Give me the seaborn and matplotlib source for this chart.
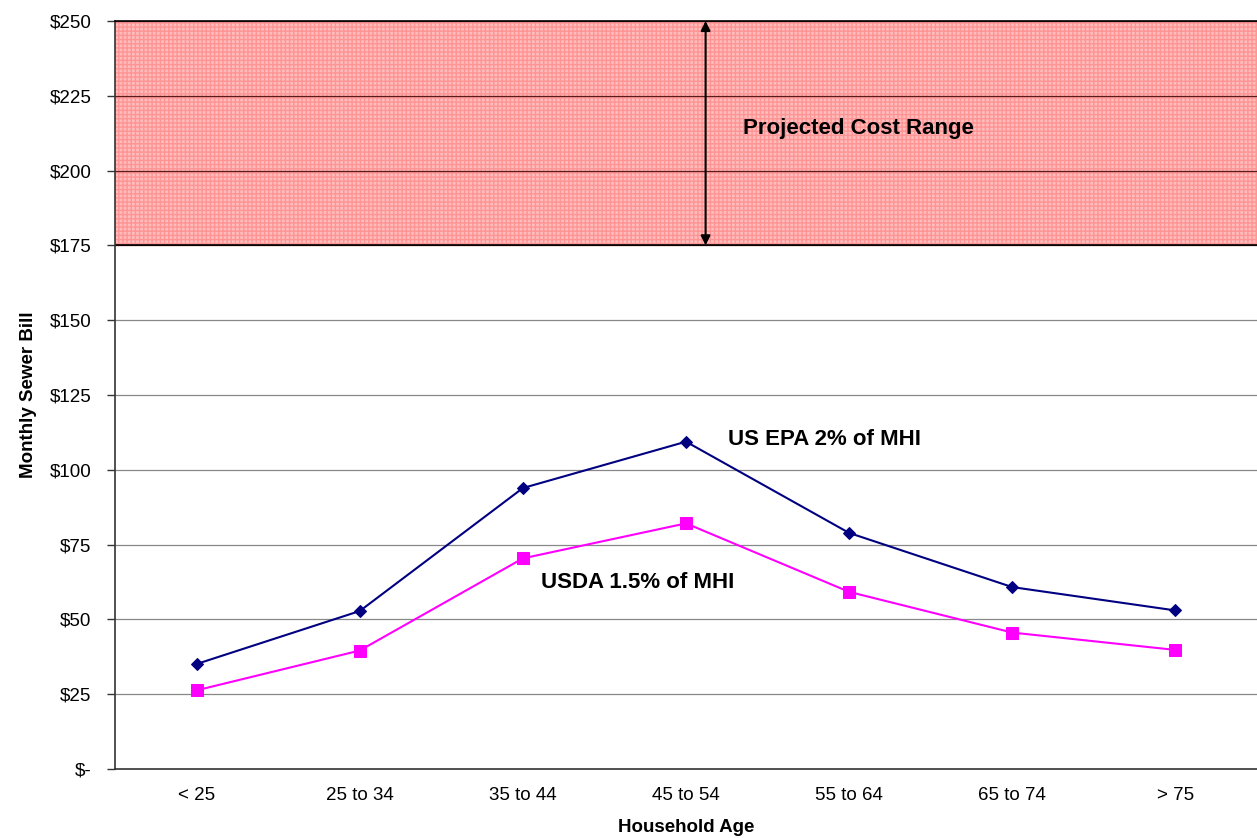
import pandas as pd
import numpy as np
import seaborn as sns
import matplotlib.pyplot as plt

# Datos
edades = ['< 25', '25 to 34', '35 to 44', '45 to 54', '55 to 64', '65 to 74', '> 75']
epa_2pct = [35.1, 52.8, 93.9, 109.4, 78.9, 60.8, 53.0]
usda_15pct = [26.3, 39.6, 70.4, 82.1, 59.2, 45.6, 39.8]
rango_costo = [175, 250]
y_ticks = [0, 25, 50, 75, 100, 125, 150, 175, 200, 225, 250]

sns.set_style("white")
plt.rcParams['font.family'] = ['Liberation Sans', 'DejaVu Sans']
plt.rcParams['text.color'] = 'black'
plt.rcParams['axes.labelcolor'] = 'black'
plt.rcParams['xtick.color'] = 'black'
plt.rcParams['ytick.color'] = 'black'

df = pd.DataFrame({'Edad': edades, 'EPA': epa_2pct, 'USDA': usda_15pct})

fig = plt.figure(figsize=(12.57, 8.38), dpi=100)
ax = fig.add_axes([0.0915, 0.0823, 0.9085, 0.8927])

# Banda del rango de costo proyectado
ax.axhspan(rango_costo[0], rango_costo[1], facecolor='#ffbcbc', edgecolor='#ff9494',
           hatch='++++', linewidth=0, zorder=0)
ax.axhline(rango_costo[0], color='black', linewidth=1.2, zorder=2)

# Lineas de cuadricula
for yv in y_ticks[1:]:
    col = '#5a1a1a' if yv >= rango_costo[0] else '#888888'
    ax.axhline(yv, color=col, linewidth=0.9, zorder=1)

sns.lineplot(data=df, x='Edad', y='EPA', ax=ax, color='#000080', marker='D',
             markersize=6, markeredgecolor='#000080', linewidth=1.5, sort=False, zorder=3)
sns.lineplot(data=df, x='Edad', y='USDA', ax=ax, color='#ff00ff', marker='s',
             markersize=8, markeredgecolor='#ff00ff', linewidth=1.5, sort=False, zorder=3)

ax.set_xlim(-0.5, len(edades) - 0.5)
ax.set_ylim(0, 250)

# Flecha doble
ax.annotate('', xy=(3.12, 250), xytext=(3.12, 175),
            arrowprops=dict(arrowstyle='<|-|>', color='black', lw=1.5,
                            mutation_scale=14, shrinkA=0, shrinkB=0), zorder=4)

ax.text(3.35, 214, 'Projected Cost Range', fontsize=16, fontweight='bold', va='center', color='black')
ax.text(3.26, 110, 'US EPA 2% of MHI', fontsize=16, fontweight='bold', va='center', color='black')
ax.text(2.11, 62.5, 'USDA 1.5% of MHI', fontsize=16, fontweight='bold', va='center', color='black')

# Ejes
ax.set_yticks(y_ticks)
ax.set_yticklabels(['$-'] + [f'${v}' for v in y_ticks[1:]], fontsize=13.5)
ax.set_xticks(range(len(edades)))
ax.set_xticklabels(edades, fontsize=13.5)
ax.set_xticks(np.arange(-0.5, len(edades)), minor=True)
ax.tick_params(axis='x', which='major', length=0, pad=13)
ax.tick_params(axis='x', which='minor', length=6, width=1, color='#333333', direction='out')
ax.tick_params(axis='y', length=6, width=1, color='#333333', direction='out', left=True, pad=11)

ax.set_xlabel('Household Age', fontsize=13.5, fontweight='bold', labelpad=11)
ax.set_ylabel('Monthly Sewer Bill', fontsize=13.5, fontweight='bold', labelpad=9)

ax.spines['right'].set_visible(False)
ax.spines['top'].set_color('black')
ax.spines['top'].set_linewidth(1.2)
ax.spines['left'].set_color('#333333')
ax.spines['bottom'].set_color('#333333')
ax.spines['left'].set_linewidth(1.2)
ax.spines['bottom'].set_linewidth(1.2)

plt.savefig('out.png', dpi=100)
